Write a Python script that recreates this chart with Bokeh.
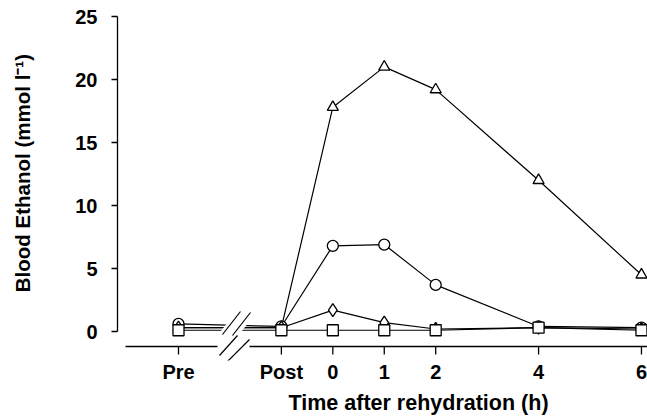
import math
from bokeh.plotting import figure
from bokeh.models import FixedTicker, Range1d, Title
from bokeh.embed import file_html
from bokeh.resources import INLINE

# ---- data ----
tick_labels = ["Pre", "Post", "0", "1", "2", "4", "6"]
times = [-3, -1, 0, 1, 2, 4, 6]
triangle_vals = [0.3, 0.3, 17.8, 21.0, 19.2, 12.0, 4.5]
circle_vals = [0.6, 0.4, 6.8, 6.9, 3.7, 0.4, 0.3]
diamond_vals = [0.3, 0.3, 1.7, 0.7, 0.2, 0.3, 0.2]
square_vals = [0.1, 0.1, 0.1, 0.1, 0.1, 0.3, 0.1]
y_ticks = [0, 5, 10, 15, 20, 25]

FONT = "Liberation Sans"

# pixel helpers for decorations (reference pixel -> data)
def xd(px):
    return -3 + (px - 178) / 51.44

def yd(py):
    return (331 - py) / 12.6

p = figure(width=647, height=418, output_backend="svg", toolbar_location=None,
           x_range=Range1d(xd(117), xd(647)), y_range=Range1d(yd(360), yd(8)),
           min_border_left=117, min_border_right=0, min_border_top=8,
           min_border_bottom=58)
p.outline_line_color = None
p.grid.visible = False
p.background_fill_color = "white"
p.border_fill_color = "white"

# y axis
ya = p.yaxis[0]
ya.ticker = FixedTicker(ticks=y_ticks)
ya.bounds = (0, 25)
ya.major_tick_out = 6
ya.major_tick_in = 0
ya.minor_tick_out = 0
ya.minor_tick_in = 0
ya.axis_line_width = 1.3
ya.major_tick_line_width = 1.3
ya.major_label_standoff = 14
ya.major_label_text_font = FONT
ya.major_label_text_font_style = "bold"
ya.major_label_text_font_size = "20px"
ya.major_label_text_color = "black"
ya.axis_line_color = "black"
ya.major_tick_line_color = "black"
# leading no-break spaces lift the centred label to where the reference has it
ya.axis_label = "\u00a0" * 4 + "Blood Ethanol (mmol l\u207b\u00b9)"
ya.axis_label_standoff = 38
ya.axis_label_text_font = FONT
ya.axis_label_text_font_style = "bold"
ya.axis_label_text_font_size = "20.5px"
ya.axis_label_text_color = "black"

# x axis: labels only, line and ticks drawn manually
xa = p.xaxis[0]
xa.ticker = FixedTicker(ticks=times)
xa.major_label_overrides = {t: l for t, l in zip(times, tick_labels)}
xa.axis_line_color = None
xa.major_tick_line_color = None
xa.minor_tick_line_color = None
xa.major_tick_out = 0
xa.major_tick_in = 0
xa.minor_tick_out = 0
xa.major_label_standoff = 0
xa.major_label_text_font = FONT
xa.major_label_text_font_style = "bold"
xa.major_label_text_font_size = "20px"
xa.major_label_text_color = "black"

# x axis line (broken) and ticks
p.segment(x0=[xd(125), xd(249)], y0=[yd(346)] * 2, x1=[xd(217), xd(647)], y1=[yd(346)] * 2,
          line_color="black", line_width=1.3)
p.segment(x0=times, y0=[yd(346)] * len(times), x1=times, y1=[yd(354)] * len(times),
          line_color="black", line_width=1.3)

# data lines
for vals in (triangle_vals, circle_vals, diamond_vals, square_vals):
    p.line(times, vals, line_color="black", line_width=1.2)

# break: white gap over data lines, then slashes
p.patch([xd(216), xd(235), xd(256), xd(237)], [yd(336), yd(312), yd(312), yd(336)],
        fill_color="white", line_color=None)
p.segment(x0=[xd(222), xd(232), xd(219), xd(227)],
          y0=[yd(334), yd(335), yd(355), yd(361)],
          x1=[xd(240), xd(250), xd(237), xd(249)],
          y1=[yd(311), yd(312), yd(335), yd(339)],
          line_color="black", line_width=1.2)

# markers
p.scatter(times, triangle_vals, marker="triangle", size=11, fill_color="white",
          line_color="black", line_width=1.3)
p.scatter(times, circle_vals, marker="circle", size=11, fill_color="white",
          line_color="black", line_width=1.3)
p.scatter(times, diamond_vals, marker="diamond", size=13, fill_color="white",
          line_color="black", line_width=1.3)
p.scatter(times, square_vals, marker="square", size=11, fill_color="white",
          line_color="black", line_width=1.3)

# x title
p.add_layout(Title(text="Time after rehydration (h)", align="left", offset=171, standoff=6,
                   text_font=FONT, text_font_style="bold", text_font_size="21.5px",
                   text_color="black"), "below")

open("out.html", "w").write(file_html(p, INLINE))
